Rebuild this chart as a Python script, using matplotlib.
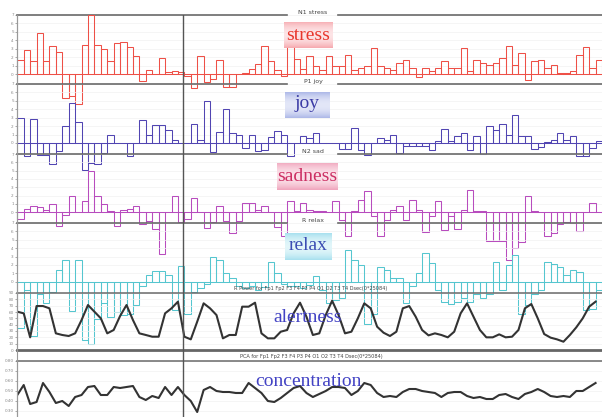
import matplotlib.pyplot as plt
from matplotlib.colors import LinearSegmentedColormap
import numpy as np

W, H = 602, 417

# bar series (one value per time step)
stress = [1.7, 2.9, 1.5, 4.9, 1.6, 3.3, 2.6, -2.8, -2.6, -3.6,
          3.4, 7.0, 3.5, 3.0, 1.5, 3.7, 3.8, 3.2, 2.1, -0.8,
          0.5, 0.0, 1.9, 0.2, 0.4, 0.2, -0.2, -1.7, 2.1, -0.9,
          -0.6, 1.7, -1.5, -1.6, 0.0, 0.1, 0.6, 1.2, 3.3, 1.5,
          0.5, -0.2, 3.2, 1.8, 0.6, 2.1, 1.0, 0.5, 2.1, 1.0,
          1.0, 2.3, 0.5, 0.7, 0.9, 3.1, 1.0, 0.7, 0.5, 1.3,
          1.7, 0.7, -0.3, 0.7, 0.3, 0.7, 1.5, 0.7, 0.7, 3.1,
          0.3, 1.7, 1.3, 1.1, 1.3, 1.9, 3.3, 1.1, 2.5, -0.7,
          1.5, 1.7, 0.7, 1.1, 0.1, 0.1, 0.3, 2.3, 3.2, 0.7,
          1.7]
joy = [3.0, -1.6, 2.8, -1.4, -1.4, -2.5, -1.0, 2.0, 4.8, 2.5,
       -3.2, -2.4, -2.5, -1.2, 1.0, 0.0, 0.0, -1.6, 0.0, 2.7,
       0.9, 2.1, 2.1, 1.6, 0.3, 0.0, 0.0, 2.3, 0.3, 5.0,
       -1.1, 1.3, 4.0, 1.2, 1.0, -0.6, 1.0, -0.9, -0.8, 0.7,
       1.4, 1.0, -1.6, 0.0, 0.8, 0.6, 1.2, 0.0, 0.0, 0.0,
       -0.7, -0.7, 1.8, -0.8, -1.4, 0.0, 0.6, 0.4, 1.0, -1.2,
       -0.4, -0.3, -0.4, -0.3, -0.8, 0.2, 1.7, 0.2, 0.8, 1.2,
       -0.8, 0.8, -1.3, 2.0, 1.6, 2.3, 1.0, 3.3, 0.8, 0.8,
       -0.7, -0.5, 0.1, 0.4, 1.2, 0.4, 0.8, -1.5, -1.5, -0.6,
       0.2]
sadness = [-0.8, 0.4, 0.7, 0.6, 0.3, 1.0, -1.7, -0.3, 2.0, 0.0,
           1.4, 5.0, 2.0, 1.0, 0.2, -1.7, 0.3, 0.4, 0.8, -1.4,
           -1.0, -2.0, -5.0, 0.0, 2.0, -1.2, -0.8, 1.7, 0.0, -1.9,
           -1.2, 0.8, -1.0, -2.5, -1.0, 1.1, 1.1, 0.3, 0.7, 0.0,
           -1.8, -2.8, 1.3, 0.1, 1.1, 0.3, 0.2, 0.1, 0.0, 1.3,
           -0.9, -2.9, 0.2, 1.5, 2.6, -0.4, -2.9, -0.9, 0.3, 0.7,
           -0.9, 1.5, 0.3, -2.4, -0.5, 1.4, -2.1, -0.4, -2.0, 0.3,
           2.7, 0.2, 0.1, -3.5, -3.4, -3.4, -5.7, -4.3, -3.6, 1.9,
           0.1, 0.0, -2.8, -2.5, -1.4, -1.2, -1.3, -2.2, 0.0, 1.1,
           0.0]
relax = [-5.5, -1.0, -6.5, -1.5, -2.5, -1.2, 1.4, 2.6, -3.5, 2.6,
         -7.0, -7.4, -4.5, -2.5, -4.2, -3.6, -4.0, -3.8, -2.8, -0.5,
         0.8, 1.3, 1.3, 0.8, -3.4, 1.9, -3.8, -1.2, -0.8, -0.3,
         2.9, 2.6, 1.0, 0.4, -0.5, -0.8, -0.5, -1.0, -0.6, 2.4,
         1.0, -0.3, -0.5, -0.5, -0.8, -0.4, 0.7, -1.0, -2.5, -2.2,
         -2.0, 3.8, 2.6, 2.0, -5.0, -3.8, 1.8, 1.4, 0.4, 0.5,
         -2.5, -0.5, 1.0, 3.4, 2.2, -1.0, -2.4, -2.6, -2.4, -2.0,
         -2.4, -1.5, -2.0, -1.5, 2.4, -1.0, 2.0, 3.2, -3.9, -2.8,
         -1.5, -1.0, 2.4, 2.1, 1.7, 0.8, 1.4, 1.1, -3.4, -3.2,
         -1.0]

# line series
alertness = [60.5, 57.9, 20.0, 69.4, 69.4, 65.8, 26.3, 23.7, 22.1, 26.3,
             47.3, 71.0, 60.5, 50.0, 26.3, 31.6, 53.7, 71.0, 47.3, 26.3,
             23.7, 21.0, 21.0, 57.9, 65.8, 76.3, 21.0, 16.8, 44.7, 73.7,
             65.8, 55.2, 18.4, 23.7, 23.7, 68.4, 68.4, 74.7, 26.3, 18.4,
             18.4, 28.9, 31.6, 57.9, 74.7, 52.6, 23.7, 26.3, 55.2, 77.9,
             55.2, 26.3, 28.9, 50.0, 73.7, 65.8, 36.8, 27.3, 22.1, 28.9,
             65.8, 69.4, 52.6, 31.6, 23.1, 26.3, 23.7, 20.0, 28.9, 57.9,
             73.7, 52.6, 31.6, 20.0, 20.0, 24.7, 20.0, 21.0, 31.6, 65.8,
             72.6, 50.0, 25.2, 19.5, 16.8, 13.1, 23.7, 35.8, 50.0, 68.4,
             76.3]
concentration = [0.46, 0.56, 0.37, 0.39, 0.58, 0.49, 0.38, 0.40, 0.35, 0.44,
                 0.46, 0.54, 0.55, 0.46, 0.46, 0.54, 0.53, 0.54, 0.55, 0.44,
                 0.41, 0.45, 0.43, 0.54, 0.46, 0.54, 0.46, 0.40, 0.29, 0.51,
                 0.54, 0.50, 0.49, 0.49, 0.48, 0.48, 0.58, 0.53, 0.48, 0.40,
                 0.39, 0.43, 0.48, 0.53, 0.55, 0.48, 0.44, 0.47, 0.50, 0.54,
                 0.54, 0.53, 0.46, 0.50, 0.58, 0.56, 0.48, 0.44, 0.45, 0.44,
                 0.49, 0.52, 0.52, 0.50, 0.49, 0.48, 0.44, 0.48, 0.49, 0.49,
                 0.45, 0.43, 0.44, 0.42, 0.42, 0.46, 0.47, 0.44, 0.42, 0.47,
                 0.49, 0.52, 0.49, 0.45, 0.44, 0.45, 0.44, 0.50, 0.50, 0.54,
                 0.58]

cursor_step = 25.8
bar_ticks = [0, 1, 2, 3, 4, 5, 6, 7]
alert_ticks = [0, 10, 20, 30, 40, 50, 60, 70, 80, 90]
conc_ticks = [0.3, 0.4, 0.5, 0.6, 0.7, 0.8]

panel_titles = ['N1 stress', 'P1 joy', 'N2 sad', 'R relax']
panel_labels = ['stress', 'joy', 'sadness', 'relax']
power_title = 'R Power for Fp1 Fp2 F3 F4 P3 P4 O1 O2 T3 T4 Dsec(0*25084)'
pca_title = 'PCA for Fp1 Fp2 F3 F4 P3 P4 O1 O2 T3 T4 Dsec(0*25084)'

n = len(stress)
x = np.arange(n)
X0, X1 = 17.3, 602

fig = plt.figure(figsize=(W / 100, H / 100), dpi=100)
serif = ['Liberation Serif', 'DejaVu Serif']


def px_axes(top, bottom):
    ax = fig.add_axes([X0 / W, 1 - bottom / H, (X1 - X0) / W, (bottom - top) / H])
    ax.patch.set_alpha(0)
    ax.set_xlim(0, n)
    ax.set_xticks([])
    for s in ['top', 'right', 'bottom']:
        ax.spines[s].set_visible(False)
    ax.spines['left'].set_color('#999999')
    ax.spines['left'].set_linewidth(0.8)
    ax.tick_params(axis='y', length=1.5, width=0.5, colors='#888888',
                   labelsize=3, pad=1)
    return ax


def fx(v):
    return v / W


def fy(v):
    return 1 - v / H


def label_box(x0, x1, top, bot, edge, mid):
    # soft gradient strip behind the emotion names
    bx = fig.add_axes([x0 / W, 1 - bot / H, (x1 - x0) / W, (bot - top) / H],
                      zorder=5)
    cmap = LinearSegmentedColormap.from_list('band', [mid, edge])
    grad = np.abs(np.linspace(-1, 1, 40))[:, None] ** 2
    bx.imshow(grad, aspect='auto', cmap=cmap, vmin=0, vmax=1)
    bx.axis('off')


# bar panels: top line, zero baseline, bottom (pixels)
geo = [(15, 74, 84), (84, 143, 154), (154, 212.3, 223), (223, 281.7, 293)]
series = [stress, joy, sadness, relax]
colors = ['#ee5047', '#5145b2', '#b84cbe', '#55c6cf']
text_colors = ['#e8362c', '#3c3ca6', '#cc2f63', '#3b4db3']
box_edges = ['#f6aab0', '#aeb9e8', '#f0a6bd', '#a9e1ef']
box_mids = ['#fde4e6', '#e3e7f8', '#fbe0e8', '#e2f6fa']
box_px = [(284, 333, 22, 48), (285, 330, 92, 118), (277, 338, 163, 190),
          (285, 332, 233, 260)]
label_pos = [(308, 35), (307, 104), (307, 176), (308, 246)]
gap = ((287 - X0) / (X1 - X0), (338 - X0) / (X1 - X0))

for (top, base, bot), vals, col, title, lab, tcol, be, bm, bp, (lx, ly) in zip(
        geo, series, colors, panel_titles, panel_labels, text_colors,
        box_edges, box_mids, box_px, label_pos):
    ax = px_axes(top, bot)
    unit = (base - top) / 7
    ax.set_ylim(-(bot - base) / unit, 7)
    ax.set_yticks(bar_ticks)
    ax.yaxis.grid(True, color='#f1f1f1', lw=0.5)
    ax.set_axisbelow(True)
    ax.axhline(0, color='#666666', lw=0.7, zorder=2)
    ax.bar(x, vals, width=1, align='edge', fill=False, edgecolor=col,
           linewidth=0.75, clip_on=False, zorder=3)
    ax.axhline(7, xmax=gap[0], color='#6a6a6a', lw=1.2, clip_on=False)
    ax.axhline(7, xmin=gap[1], color='#6a6a6a', lw=1.2, clip_on=False)
    fig.text(fx(313), fy(top - 2.5), title, fontsize=4.5, color='#444444',
             ha='center', va='center')
    label_box(*bp, be, bm)
    fig.text(fx(lx), fy(ly), lab, fontsize=14, family=serif, color=tcol,
             ha='center', va='center', zorder=10)

# alertness
ax = px_axes(293, 350)
ax.set_ylim(0, 90)
ax.set_yticks(alert_ticks)
ax.yaxis.grid(True, color='#f1f1f1', lw=0.5)
ax.plot(x, alertness, color='#333333', lw=1.5, zorder=4)
ax.axhline(90, color='#6a6a6a', lw=1.1, clip_on=False)
ax.axhline(0, color='#666666', lw=2.0, clip_on=False)
fig.text(fx(311), fy(288.5), power_title, fontsize=3.6, color='#444444',
         ha='center', va='center')
fig.text(fx(308), fy(317), 'alertness', fontsize=14, family=serif,
         color='#4343c4', ha='center', va='center', zorder=10)

# concentration
ax = px_axes(361, 417)
ax.set_ylim(0.24, 0.80)
ax.set_yticks(conc_ticks)
ax.set_yticklabels(['%.2f' % t for t in conc_ticks])
ax.yaxis.grid(True, color='#f1f1f1', lw=0.5)
ax.plot(x, concentration, color='#333333', lw=1.5, zorder=4)
ax.axhline(0.80, color='#6a6a6a', lw=1.1, clip_on=False)
fig.text(fx(311), fy(356.5), pca_title, fontsize=3.6, color='#444444',
         ha='center', va='center')
fig.text(fx(308), fy(381), 'concentration', fontsize=14, family=serif,
         color='#4343c4', ha='center', va='center', zorder=10)

# overlay for the time cursor
ov = px_axes(15, 417)
ov.set_yticks([])
ov.set_ylim(0, 1)
ov.axvline(cursor_step, color='#555555', lw=1.0)

fig.savefig('out.png', dpi=100)
